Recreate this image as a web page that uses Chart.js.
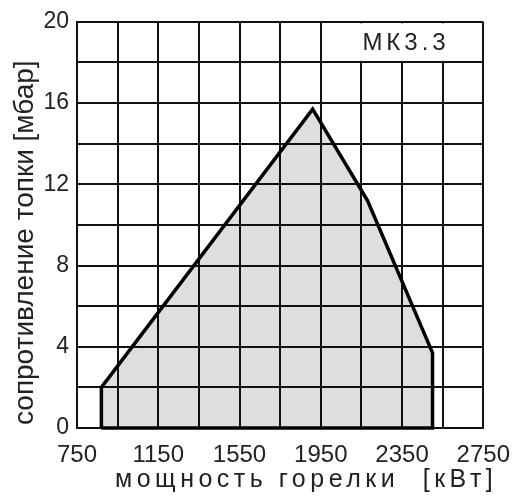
<!DOCTYPE html>
<html>
<head>
<meta charset="utf-8">
<script src="https://cdn.jsdelivr.net/npm/chart.js@4/dist/chart.umd.min.js"></script>
<style>
  html, body { margin: 0; padding: 0; background: #fff; }
  #wrap { width: 523px; height: 498px; }
</style>
</head>
<body>
<div id="wrap"><canvas id="c" width="523" height="498"></canvas></div>
<script>
// working field outline, kW vs mbar (closed polygon)
const powerKw = [870, 870, 1910, 2180, 2500, 2500, 870];
const resistanceMbar = [0, 2, 15.7, 11.2, 3.7, 0, 0];

const xTickLabels = [750, 1150, 1550, 1950, 2350, 2750];
const yTickLabels = [0, 4, 8, 12, 16, 20];

const modelName = 'МК3.3';
const xTitle = 'мощность горелки';
const xUnit = '[кВт]';
const yTitle = 'сопротивление топки [мбар]';

const FONT = '"Liberation Sans", Arial, Helvetica, sans-serif';

const points = powerKw.map((v, i) => ({x: v, y: resistanceMbar[i]}));

// white box in the top right row with the model name
const modelBox = {
  id: 'modelBox',
  beforeDatasetsDraw(chart) {
    const {ctx, scales: {x, y}} = chart;
    const l = x.getPixelForValue(1950), r = x.getPixelForValue(2750);
    const t = y.getPixelForValue(20), b = y.getPixelForValue(18);
    ctx.save();
    ctx.fillStyle = '#fff';
    ctx.fillRect(l + 1.5, t + 1.5, r - l - 3, b - t - 3);
    ctx.fillStyle = '#222';
    ctx.font = '24px ' + FONT;
    ctx.letterSpacing = '4px';
    ctx.textAlign = 'center';
    ctx.textBaseline = 'middle';
    ctx.fillText(modelName, (l + r) / 2 + 4, (t + b) / 2 + 1);
    ctx.restore();
  }
};

// axis titles drawn by hand so they can sit off-centre like the printed sheet
const axisTitles = {
  id: 'axisTitles',
  afterDraw(chart) {
    const {ctx, chartArea: a} = chart;
    ctx.save();
    ctx.fillStyle = '#222';
    ctx.textBaseline = 'alphabetic';

    ctx.font = '25px ' + FONT;
    ctx.letterSpacing = '4.5px';
    ctx.textAlign = 'left';
    ctx.fillText(xTitle, a.left + 38, a.bottom + 59);
    ctx.textAlign = 'right';
    ctx.fillText(xUnit, a.right + 14, a.bottom + 59);

    ctx.letterSpacing = '0px';
    ctx.font = '28px ' + FONT;
    ctx.translate(33, a.bottom - 3);
    ctx.rotate(-Math.PI / 2);
    ctx.textAlign = 'left';
    ctx.fillText(yTitle, 0, 0);
    ctx.restore();
  }
};

new Chart(document.getElementById('c'), {
  type: 'line',
  data: {
    datasets: [{
      // grey area (open path, filled down to zero)
      data: points.slice(0, -1),
      borderWidth: 0,
      borderColor: 'rgba(0,0,0,0)',
      backgroundColor: 'rgba(0,0,0,0.13)',
      fill: 'origin',
      pointRadius: 0,
      tension: 0
    }, {
      // closed outline
      data: points,
      borderColor: '#000',
      borderWidth: 3.5,
      fill: false,
      pointRadius: 0,
      tension: 0,
      borderJoinStyle: 'miter',
      clip: 6
    }]
  },
  options: {
    responsive: false,
    animation: false,
    layout: {padding: {left: 0, top: 16, right: 30, bottom: 0}},
    plugins: {legend: {display: false}, tooltip: {enabled: false}},
    scales: {
      x: {
        type: 'linear',
        min: 750, max: 2750,
        afterFit(s) { s.height = 70; },
        grid: {color: '#111', lineWidth: 2, drawTicks: false},
        border: {color: '#111', width: 2},
        ticks: {
          stepSize: 200,
          padding: 13,
          color: '#222',
          maxRotation: 0,
          autoSkip: false,
          font: {family: FONT, size: 24},
          callback: v => xTickLabels.includes(v) ? String(v) : ''
        }
      },
      y: {
        min: 0, max: 20,
        afterFit(s) { s.width = 77; },
        grid: {color: '#111', lineWidth: 2, drawTicks: false},
        border: {color: '#111', width: 2},
        ticks: {
          stepSize: 2,
          padding: 8,
          color: '#222',
          autoSkip: false,
          font: {family: FONT, size: 23},
          callback: v => yTickLabels.includes(v) ? String(v) : ''
        }
      }
    }
  },
  plugins: [modelBox, axisTitles]
});
</script>
</body>
</html>
